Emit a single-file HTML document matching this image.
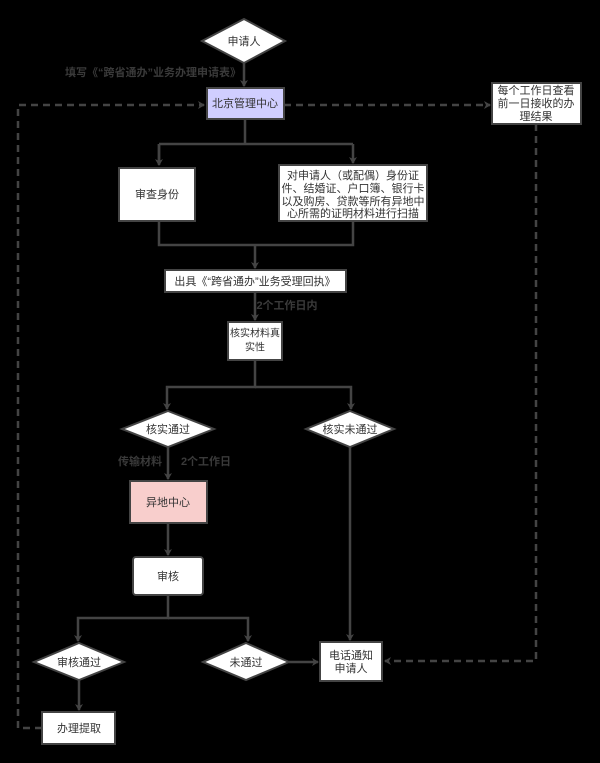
<!DOCTYPE html>
<html><head><meta charset="utf-8"><style>
html,body{margin:0;padding:0;background:#000;}
svg{display:block;}
text{font-family:"Liberation Sans","Noto Sans CJK SC",sans-serif;font-size:11px;fill:#333;text-anchor:middle;dominant-baseline:central;}
.lb{fill:#3a3a3a;font-weight:bold;}
</style></head><body>
<svg width="600" height="763" viewBox="0 0 600 763">
<defs>
<marker id="a" markerWidth="8" markerHeight="8" refX="6" refY="4" orient="auto" markerUnits="userSpaceOnUse"><path d="M0,0 L7,4 L0,8 L2,4 Z" fill="#444"/></marker>
</defs>
<g stroke="#444" stroke-width="2.5" fill="none">
<path d="M244,63 V86" marker-end="url(#a)"/>
<path d="M245,119 V144 M159,144 H353 M159,144 V164" />
<path d="M159,144 V165" marker-end="url(#a)"/>
<path d="M353,144 V163" marker-end="url(#a)"/>
<path d="M159,221 V245 H353 V221 M255,245 V268" marker-end="url(#a)"/>
<path d="M255,292 V320" marker-end="url(#a)"/>
<path d="M255,360 V387 H167 V409" marker-end="url(#a)"/>
<path d="M255,387 H351 V409" marker-end="url(#a)"/>
<path d="M168,447 V479" marker-end="url(#a)"/>
<path d="M168,523 V555" marker-end="url(#a)"/>
<path d="M168,595 V618 H78 V641" marker-end="url(#a)"/>
<path d="M168,618 H248 V641" marker-end="url(#a)"/>
<path d="M350,447 V640" marker-end="url(#a)"/>
<path d="M289,662 H318" marker-end="url(#a)"/>
<path d="M79,680 V710" marker-end="url(#a)"/>
</g>
<g stroke="#444" stroke-width="2.5" fill="none" stroke-dasharray="7,5">
<path d="M42,728 H18 V105 H204" marker-end="url(#a)"/>
<path d="M284,105 H490" marker-end="url(#a)"/>
<path d="M536,124 V661 H385" marker-end="url(#a)"/>
</g>
<g stroke="#444" stroke-width="2">
<polygon points="244,19 285,41 244,63 202,41" fill="#fff"/>
<rect x="207" y="88" width="77" height="31" fill="#d0ceff"/>
<rect x="492" y="83" width="89" height="41" fill="#fff"/>
<rect x="119" y="168" width="76" height="53" fill="#fff"/>
<rect x="279" y="165" width="148" height="56" fill="#fff"/>
<rect x="165" y="270" width="181" height="22" fill="#fff"/>
<rect x="228" y="322" width="54" height="38" fill="#fff"/>
<polygon points="168,411 214,429 168,447 122,429" fill="#fff"/>
<polygon points="350,411 394,429 350,447 306,429" fill="#fff"/>
<rect x="130" y="481" width="77" height="42" fill="#f8cecc"/>
<rect x="133" y="557" width="70" height="38" rx="3" fill="#fff"/>
<polygon points="79,643 124,662 79,680 34,662" fill="#fff"/>
<polygon points="246,643 289,662 246,680 203,662" fill="#fff"/>
<rect x="320" y="642" width="62" height="39" fill="#fff"/>
<rect x="42" y="712" width="73" height="32" fill="#fff"/>
</g>
<text x="244" y="42">申请人</text>
<text class="lb" x="153" y="73">填写《“跨省通办”业务办理申请表》</text>
<text x="245" y="104">北京管理中心</text>
<text x="536" y="91">每个工作日查看</text>
<text x="536" y="104">前一日接收的办</text>
<text x="536" y="117">理结果</text>
<text x="157" y="195">审查身份</text>
<text x="353" y="176">对申请人（或配偶）身份证</text>
<text x="353" y="189">件、结婚证、户口簿、银行卡</text>
<text x="353" y="202">以及购房、贷款等所有异地中</text>
<text x="353" y="214">心所需的证明材料进行扫描</text>
<text x="255" y="282">出具《“跨省通办”业务受理回执》</text>
<text class="lb" x="287" y="306">2个工作日内</text>
<text x="255" y="334" style="font-size:10px">核实材料真</text>
<text x="255" y="348" style="font-size:10px">实性</text>
<text x="168" y="430">核实通过</text>
<text x="350" y="430">核实未通过</text>
<text class="lb" x="140" y="462">传输材料</text>
<text class="lb" x="206" y="462">2个工作日</text>
<text x="168" y="503">异地中心</text>
<text x="168" y="577">审核</text>
<text x="79" y="663">审核通过</text>
<text x="246" y="663">未通过</text>
<text x="351" y="656">电话通知</text>
<text x="351" y="669">申请人</text>
<text x="79" y="729">办理提取</text>
</svg>
</body></html>
